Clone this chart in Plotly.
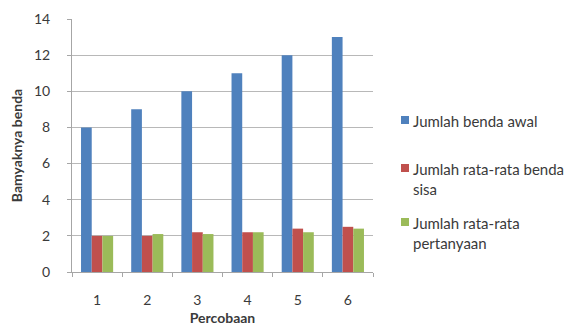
import plotly.graph_objects as go

# Data
percobaan = ["1", "2", "3", "4", "5", "6"]
benda_awal = [8, 9, 10, 11, 12, 13]
rata_sisa = [2, 2, 2.2, 2.2, 2.4, 2.5]
rata_pertanyaan = [2, 2.1, 2.1, 2.2, 2.2, 2.4]

series_names = [
    "Jumlah benda awal",
    "Jumlah rata-rata benda<br>sisa",
    "Jumlah rata-rata<br>pertanyaan",
]
colors = ["#4F81BD", "#C0504D", "#9BBB59"]

W, H = 573, 326
L, R, T, B = 72, 200, 19, 54
font_family = "Lato, 'Open Sans', sans-serif"
text_color = "#3a3a3a"
axis_color = "#a6a6a6"


def px_x(x):
    return (x - L) / (W - L - R)


def px_y(y):
    return (H - B - y) / (H - T - B)


fig = go.Figure()
for name, vals, col in zip(series_names, [benda_awal, rata_sisa, rata_pertanyaan], colors):
    fig.add_trace(go.Bar(
        x=percobaan, y=vals, name=name,
        marker=dict(color=col, line=dict(width=0)),
        showlegend=False,
    ))

# Legend: coloured square + label for each series
legend_first_line_y = [120, 168, 222]
annotations = []
shapes = []
for name, col, ly in zip(series_names, colors, legend_first_line_y):
    shapes.append(dict(
        type="rect", xref="paper", yref="paper",
        x0=px_x(401), x1=px_x(409), y0=px_y(ly + 4), y1=px_y(ly - 4),
        fillcolor=col, line=dict(width=0),
    ))
    annotations.append(dict(
        xref="paper", yref="paper", x=px_x(411), y=px_y(ly - 10),
        xanchor="left", yanchor="top", align="left",
        text=name, showarrow=False,
        font=dict(family=font_family, size=15, color=text_color),
    ))

fig.update_layout(
    barmode="group",
    bargap=0.36,
    bargroupgap=0,
    width=W, height=H,
    margin=dict(l=L, r=R, t=T, b=B, autoexpand=False),
    paper_bgcolor="white",
    plot_bgcolor="white",
    font=dict(family=font_family, size=14, color=text_color),
    annotations=annotations,
    shapes=shapes,
    showlegend=False,
)
fig.update_xaxes(
    type="category",
    automargin=False,
    tickson="boundaries",
    ticks="outside", ticklen=4, tickcolor=axis_color,
    ticklabelstandoff=15,
    showline=True, linecolor=axis_color, linewidth=1,
    showgrid=False,
    tickfont=dict(size=14, color=text_color),
    title=dict(text="<b>Percobaan</b>", font=dict(size=14, color=text_color), standoff=6),
)
fig.update_yaxes(
    range=[0, 14], dtick=2,
    automargin=False,
    ticks="outside", ticklen=4, tickcolor=axis_color,
    ticklabelstandoff=14,
    showline=True, linecolor=axis_color, linewidth=1,
    showgrid=True, gridcolor="#b8b8b8", gridwidth=1,
    zeroline=False,
    tickfont=dict(size=14, color=text_color),
    title=dict(text="<b>Bamyaknya benda</b>", font=dict(size=14, color=text_color), standoff=8),
)

fig.write_html("out.html")
